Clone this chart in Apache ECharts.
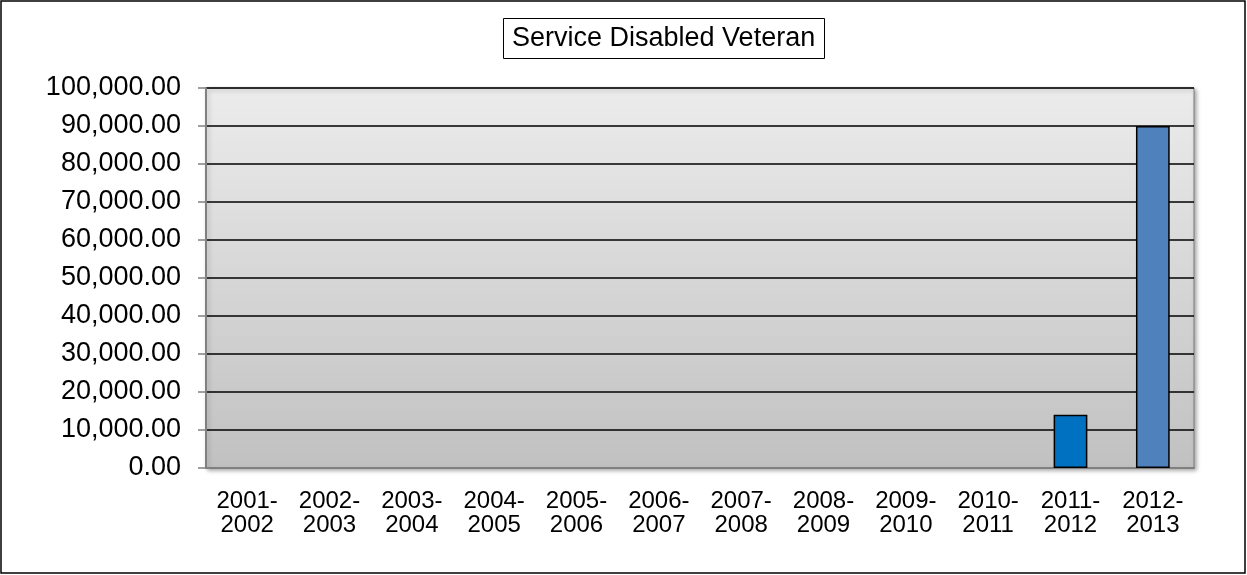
<!DOCTYPE html>
<html>
<head>
<meta charset="utf-8">
<style>
  html, body { margin: 0; padding: 0; background: #fff; }
  #chart { width: 1247px; height: 575px; }
</style>
<script src="https://cdn.jsdelivr.net/npm/echarts@6/dist/echarts.min.js"></script>
</head>
<body>
<div id="chart"></div>
<script>
// Fiscal years on the category axis
const categories = ['2001-2002', '2002-2003', '2003-2004', '2004-2005', '2005-2006', '2006-2007',
                    '2007-2008', '2008-2009', '2009-2010', '2010-2011', '2011-2012', '2012-2013'];
// Service Disabled Veteran amounts per fiscal year
const values = [0, 0, 0, 0, 0, 0, 0, 0, 0, 0, 14000, 90000];
// Value axis range
const yMin = 0;
const yMax = 100000;
const yStep = 10000;

const barColors = ['#4F81BD', '#4F81BD', '#4F81BD', '#4F81BD', '#4F81BD', '#4F81BD',
                   '#4F81BD', '#4F81BD', '#4F81BD', '#4F81BD', '#0070C0', '#4F81BD'];

function fmtMoney(v) {
  const fixed = Number(v).toFixed(2);
  const parts = fixed.split('.');
  parts[0] = parts[0].replace(/\B(?=(\d{3})+(?!\d))/g, ',');
  return parts.join('.');
}

const chart = echarts.init(document.getElementById('chart'), null, { renderer: 'canvas' });
const font = '"Liberation Sans", Arial, sans-serif';

chart.setOption({
  animation: false,
  backgroundColor: '#ffffff',
  textStyle: { fontFamily: font },
  title: {
    text: 'Service Disabled Veteran',
    left: 503,
    top: 18,
    padding: [7, 10, 7, 9],
    borderColor: '#000',
    borderWidth: 1,
    textStyle: { fontFamily: font, fontSize: 27, fontWeight: 'normal', color: '#000' }
  },
  graphic: [{
    type: 'rect',
    shape: { x: 1, y: 1, width: 1244, height: 572 },
    style: { fill: 'none', stroke: '#000', lineWidth: 1.5 },
    silent: true,
    z: -1
  }],
  grid: {
    left: 206, right: 53, top: 88, bottom: 107,
    show: true,
    borderWidth: 1,
    borderColor: '#7f7f7f',
    backgroundColor: new echarts.graphic.LinearGradient(0, 0, 0, 1, [
      { offset: 0, color: '#ececec' },
      { offset: 1, color: '#c1c1c1' }
    ]),
    shadowColor: 'rgba(0,0,0,0.35)',
    shadowBlur: 4,
    shadowOffsetX: 2,
    shadowOffsetY: 2
  },
  xAxis: {
    type: 'category',
    data: categories,
    axisLine: { show: true, lineStyle: { color: '#808080', width: 2 } },
    axisTick: { show: false },
    axisLabel: {
      interval: 0,
      margin: 21,
      fontSize: 24,
      lineHeight: 24,
      color: '#000',
      fontFamily: font,
      formatter: function (v) { return v.replace('-', '-\n'); }
    }
  },
  yAxis: {
    type: 'value',
    min: yMin,
    max: yMax,
    interval: yStep,
    axisLine: { show: true, lineStyle: { color: '#808080', width: 2 } },
    axisTick: { show: true, length: 8, lineStyle: { color: '#808080', width: 1.5 } },
    axisLabel: {
      margin: 25,
      fontSize: 27,
      color: '#000',
      fontFamily: font,
      formatter: fmtMoney
    },
    splitLine: { show: true, lineStyle: { color: '#000', width: 1.5 } }
  },
  series: [{
    type: 'bar',
    barWidth: '41%',
    data: values.map(function (v, i) {
      return {
        value: v,
        itemStyle: {
          color: barColors[i],
          borderColor: '#000',
          borderWidth: v > 0 ? 1.5 : 0
        }
      };
    }),
    z: 3
  }]
});
</script>
</body>
</html>
